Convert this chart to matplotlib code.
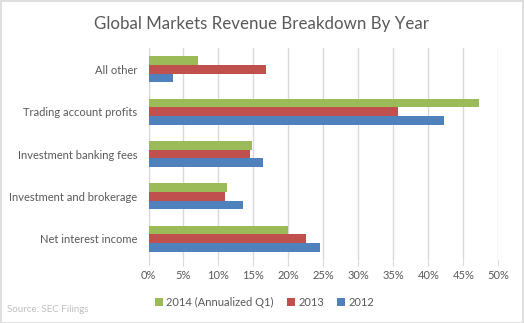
import matplotlib
matplotlib.use('agg')
import matplotlib.pyplot as plt
import numpy as np
from matplotlib.ticker import FuncFormatter, MultipleLocator

categories = ['Net interest income', 'Investment and brokerage',
              'Investment banking fees', 'Trading account profits', 'All other']
rev_2012 = [24.5, 13.5, 16.35, 42.2, 3.5]
rev_2013 = [22.5, 10.9, 14.5, 35.65, 16.8]
rev_2014 = [20.0, 11.2, 14.8, 47.2, 7.05]
series_names = ['2014 (Annualized Q1)', '2013', '2012']

plt.rcParams['font.family'] = ['Lato', 'DejaVu Sans']
grey_txt = '#595959'

fig = plt.figure(figsize=(5.24, 3.23), dpi=100)
ax = fig.add_axes([0.2834, 0.195, 0.6676, 0.656])

y = np.arange(len(categories))
h = 0.205
b12 = ax.barh(y - h, rev_2012, height=h, color='#4F81BD', label='2012', zorder=3)
b13 = ax.barh(y, rev_2013, height=h, color='#C0504D', label='2013', zorder=3)
b14 = ax.barh(y + h, rev_2014, height=h, color='#9BBB59', label='2014 (Annualized Q1)', zorder=3)

ax.set_xlim(0, 50)
ax.set_ylim(-0.5, len(categories) - 0.5)
ax.xaxis.set_major_locator(MultipleLocator(5))
ax.xaxis.set_major_formatter(FuncFormatter(lambda v, p: f'{v:.0f}%'))
ax.set_yticks(y)
ax.set_yticklabels(categories)
ax.grid(axis='x', color='#D9D9D9', linewidth=1, zorder=0)
for s in ['top', 'right', 'bottom']:
    ax.spines[s].set_visible(False)
ax.spines['left'].set_color('#D9D9D9')
ax.tick_params(axis='x', length=4, color='#D9D9D9', labelsize=8, labelcolor=grey_txt, pad=3)
ax.tick_params(axis='y', length=0, labelsize=8, labelcolor=grey_txt, pad=8)

fig.text(0.5, 0.925, 'Global Markets Revenue Breakdown By Year', ha='center', va='center',
         fontsize=12.2, color=grey_txt)

fig.legend(handles=[b14, b13, b12], labels=series_names, loc='center',
           bbox_to_anchor=(0.505, 0.063), ncol=3, frameon=False, fontsize=8,
           handlelength=0.7, handleheight=0.7, handletextpad=0.3, columnspacing=1.2,
           labelcolor=grey_txt)

fig.text(0.013, 0.043, 'Source: SEC Filings', fontsize=7, color='#BFBFBF', va='center')

fig.patches.append(plt.Rectangle((0.001, 0.001), 0.997, 0.996, transform=fig.transFigure,
                                 fill=False, edgecolor='#D9D9D9', linewidth=1.2))

fig.savefig('out.png', dpi=100)
